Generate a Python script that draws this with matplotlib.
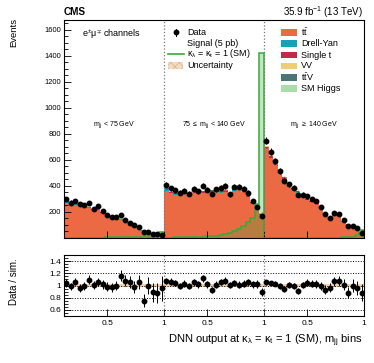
import numpy as np
import matplotlib
matplotlib.use('Agg')
import matplotlib.pyplot as plt
from matplotlib.patches import Rectangle
from matplotlib.lines import Line2D
from matplotlib.ticker import MultipleLocator, FixedLocator

plt.rcParams['font.family'] = ['Liberation Sans', 'DejaVu Sans']
plt.rcParams['mathtext.fontset'] = 'custom'
plt.rcParams['mathtext.rm'] = 'Liberation Sans'
plt.rcParams['mathtext.it'] = 'Liberation Sans:italic'
plt.rcParams['mathtext.bf'] = 'Liberation Sans:bold'
plt.rcParams['hatch.linewidth'] = 0.5

# ---------------- data ----------------
region_labels = [r'm$_\mathregular{jj}$ < 75 GeV',
                 r'75 $\leq$ m$_\mathregular{jj}$ < 140 GeV',
                 r'm$_\mathregular{jj}$ $\geq$ 140 GeV']
n_bins_region = 22
dnn_lo = 0.12
dnn_w = 0.04
x_tick_values = [0.5, 1.0]
x_tick_labels = ['0.5', '1']

data = [298, 272, 285, 259, 256, 269, 226, 244, 205, 179, 164, 159, 174, 138, 113, 98, 82, 46, 49, 33, 28, 21,
        410, 383, 367, 349, 364, 341, 377, 359, 402, 369, 338, 374, 387, 400, 336, 395, 395, 379, 349, 285, 241, 172,
        746, 664, 590, 513, 441, 413, 385, 331, 333, 321, 300, 285, 238, 182, 156, 190, 185, 136, 95, 90, 75, 38]

ttbar = [271, 259, 253, 256, 245, 231, 212, 214, 190, 173, 159, 149, 141, 120, 99, 93, 74, 57, 46, 35, 30, 21,
         364, 342, 334, 335, 336, 327, 342, 336, 342, 346, 350, 351, 348, 354, 319, 364, 373, 352, 316, 265, 222, 179,
         680, 612, 550, 496, 447, 391, 372, 348, 314, 293, 278, 265, 229, 186, 153, 169, 164, 126, 101, 83, 73, 40]

drell_yan = [5, 5, 5, 4, 4, 4, 4, 8, 3, 3, 3, 3, 2, 2, 2, 2, 1, 1, 1, 1, 1, 0,
             4, 4, 4, 4, 3, 3, 3, 3, 3, 3, 3, 3, 3, 2, 2, 2, 2, 2, 2, 2, 2, 1,
             3, 3, 3, 2, 2, 2, 2, 2, 2, 2, 1, 1, 1, 1, 1, 1, 1, 1, 1, 1, 0, 0]

single_t = [7, 7, 6, 6, 6, 6, 5, 5, 5, 4, 4, 4, 4, 3, 3, 3, 2, 2, 2, 1, 1, 1,
            10, 10, 10, 9, 9, 9, 9, 9, 9, 9, 9, 9, 9, 9, 8, 8, 8, 8, 7, 6, 5, 4,
            18, 16, 14, 13, 12, 11, 10, 9, 9, 8, 8, 7, 6, 5, 5, 5, 4, 4, 3, 3, 2, 1]

vv = [2, 2, 2, 2, 2, 2, 2, 2, 1, 1, 1, 1, 1, 1, 1, 1, 1, 1, 0, 0, 0, 0,
      2, 2, 2, 2, 2, 2, 2, 2, 2, 2, 2, 2, 2, 2, 2, 2, 2, 2, 2, 2, 2, 2,
      3, 3, 3, 3, 2, 2, 2, 2, 2, 2, 2, 2, 1, 1, 1, 1, 1, 1, 1, 1, 1, 0]

ttv = [1, 1, 1, 1, 1, 1, 1, 1, 1, 1, 1, 1, 1, 1, 1, 0, 0, 0, 0, 0, 0, 0,
       2, 2, 2, 2, 2, 2, 2, 2, 2, 2, 2, 2, 2, 2, 2, 2, 2, 2, 2, 2, 2, 2,
       3, 3, 3, 3, 2, 2, 2, 2, 2, 2, 2, 2, 2, 1, 1, 1, 1, 1, 1, 1, 1, 1]

sm_higgs = [1, 1, 1, 1, 1, 1, 1, 1, 1, 1, 1, 1, 1, 1, 1, 1, 0, 0, 0, 0, 0, 0,
            1, 1, 1, 1, 1, 1, 1, 1, 1, 1, 1, 1, 1, 1, 1, 2, 2, 2, 3, 3, 4, 5,
            1, 1, 1, 1, 1, 1, 1, 1, 1, 1, 1, 1, 1, 1, 1, 1, 1, 1, 1, 1, 1, 1]

signal = [2, 2, 2, 2, 2, 3, 3, 3, 3, 4, 4, 4, 5, 5, 6, 6, 7, 8, 9, 10, 15, 48,
          3, 3, 4, 4, 5, 6, 7, 8, 10, 12, 15, 18, 22, 28, 40, 55, 70, 90, 120, 150, 260, 1420,
          1, 1, 1, 1, 1, 1, 1, 1, 1, 2, 2, 2, 2, 2, 3, 3, 3, 4, 5, 8, 25, 65]

unc_rel = 0.03

bkg_names = [r'$\mathregular{t\bar{t}}$', 'Drell-Yan', 'Single t', 'VV',
             r'$\mathregular{t\bar{t}}$V', 'SM Higgs']
bkg_colors = ['#ec6a43', '#13a3b8', '#c32a48', '#efcd78', '#4e7373', '#a9dea8']

# ---------------- figure ----------------
W, H = 374, 363
fig = plt.figure(figsize=(W / 100, H / 100), dpi=100)

def fx(px):
    return px / W

def fy(py):
    return 1 - py / H

ax = fig.add_axes([fx(64), fy(238), fx(364) - fx(64), fy(20) - fy(238)])
axr = fig.add_axes([fx(64), fy(316), fx(364) - fx(64), fy(255) - fy(316)])

nb = len(data)
edges = np.arange(nb + 1, dtype=float)
centers = edges[:-1] + 0.5

data_a = np.array(data, float)
stack = [np.array(v, float) for v in [ttbar, drell_yan, single_t, vv, ttv, sm_higgs]]
base = np.zeros(nb)
for vals, col in zip(stack, bkg_colors):
    ax.stairs(base + vals, edges, baseline=base.copy(), fill=True, color=col, lw=0)
    base = base + vals
mc_total = base

# uncertainty band
ax.stairs(mc_total * (1 + unc_rel), edges, baseline=mc_total * (1 - unc_rel), fill=True,
          facecolor='none', edgecolor='#d9b38c', hatch='xxxx', lw=0)

# signal
sig = np.array(signal, float)
ax.stairs(sig, edges, fill=True, color='#3aa83a', alpha=0.3, lw=0)
ax.stairs(sig, edges, fill=False, color='#3aa83a', lw=1.1)

# data
ax.errorbar(centers, data_a, yerr=np.sqrt(data_a), fmt='o', color='black', ms=3.2,
            elinewidth=0.7, capsize=0)

ax.set_xlim(0, nb)
ax.set_ylim(0, 1675)

# separators
for a in (ax, axr):
    for b in (n_bins_region, 2 * n_bins_region):
        a.axvline(b, color='#777777', ls=':', lw=0.9)

# ticks
xt_pos = []
xt_lab = []
for r in range(3):
    for v, l in zip(x_tick_values, x_tick_labels):
        xt_pos.append(r * n_bins_region + (v - dnn_lo) / dnn_w)
        xt_lab.append(l)

for a in (ax, axr):
    a.set_xticks(xt_pos)
    a.tick_params(axis='both', which='both', direction='in', width=0.6)
    a.tick_params(axis='both', which='major', length=5)
    a.tick_params(axis='y', which='minor', length=2.8)
    for s in a.spines.values():
        s.set_linewidth(0.8)
ax.set_xticklabels([])
axr.set_xticklabels(xt_lab, fontsize=6)

ax.yaxis.set_major_locator(FixedLocator([200, 400, 600, 800, 1000, 1200, 1400, 1600]))
ax.yaxis.set_minor_locator(MultipleLocator(50))
ax.tick_params(axis='y', labelsize=5.4, pad=2)

# ratio
ratio = data_a / mc_total
ratio_err = np.sqrt(data_a) / mc_total
axr.stairs(np.full(nb, 1 + unc_rel), edges, baseline=np.full(nb, 1 - unc_rel), fill=True,
           color='#efd2ae', lw=0)
for yv in [0.6, 0.8, 1.0, 1.2, 1.4]:
    axr.axhline(yv, color='black', ls=':', lw=0.7)
axr.errorbar(centers, ratio, yerr=ratio_err, fmt='o', color='black', ms=3.2,
             elinewidth=0.7, capsize=0)
axr.set_xlim(0, nb)
axr.set_ylim(0.5, 1.5)
axr.yaxis.set_major_locator(FixedLocator([0.6, 0.8, 1.0, 1.2, 1.4]))
axr.set_yticklabels(['0.6', '0.8', '1', '1.2', '1.4'])
axr.yaxis.set_minor_locator(MultipleLocator(0.05))
axr.tick_params(axis='y', labelsize=6, pad=2)
axr.tick_params(axis='x', pad=3)

# region labels
for r, lab in enumerate(region_labels):
    ax.text(r * n_bins_region + 11, 870, lab, ha='center', va='center', fontsize=5)

# texts
fig.text(fx(64), fy(12), 'CMS', fontsize=7.2, fontweight='bold', ha='left', va='center')
fig.text(fx(363), fy(12), r'35.9 fb$^\mathregular{-1}$ (13 TeV)', fontsize=7, ha='right', va='center')
fig.text(fx(14), fy(18), 'Events', rotation=90, fontsize=6.8, ha='center', va='top')
fig.text(fx(14), fy(282), 'Data / sim.', rotation=90, fontsize=7, ha='center', va='center')
fig.text(fx(363), fy(341),
         r'DNN output at κ$_\mathregular{λ}$ = κ$_\mathregular{t}$ = 1 (SM), m$_\mathregular{jj}$ bins',
         fontsize=8, ha='right', va='center')
fig.text(fx(82), fy(34), r'e$^\mathregular{\pm}$μ$^\mathregular{\mp}$ channels', fontsize=6.5,
         ha='left', va='center')

# left legend
lg_fs = 6.5
tf = fig.transFigure
fig.add_artist(Line2D([fx(175.5)], [fy(32.3)], marker='o', ms=3.2, color='black', transform=tf))
fig.add_artist(Line2D([fx(175.5), fx(175.5)], [fy(29), fy(35.6)], color='black', lw=0.7, transform=tf))
fig.text(fx(187), fy(32.3), 'Data', fontsize=lg_fs, ha='left', va='center')
fig.text(fx(187), fy(43), 'Signal (5 pb)', fontsize=lg_fs, ha='left', va='center')
fig.add_artist(Line2D([fx(168), fx(184)], [fy(54), fy(54)], color='#3aa83a', lw=1.2, transform=tf))
fig.text(fx(187), fy(54), r'κ$_\mathregular{λ}$ = κ$_\mathregular{t}$ = 1 (SM)', fontsize=lg_fs,
         ha='left', va='center')
fig.add_artist(Rectangle((fx(168), fy(69)), fx(183) - fx(168), fy(62) - fy(69), transform=tf,
                         facecolor='#f3dcc0', edgecolor='#d9b38c', hatch='xxxx', lw=0))
fig.text(fx(187), fy(65.5), 'Uncertainty', fontsize=lg_fs, ha='left', va='center')

# right legend
rows = [32.5, 43.3, 55, 66, 77.3, 88.7]
for yy, name, col in zip(rows, bkg_names, bkg_colors):
    fig.add_artist(Rectangle((fx(281), fy(yy + 3.3)), fx(297) - fx(281), fy(yy - 3.3) - fy(yy + 3.3),
                             transform=tf, facecolor=col, lw=0))
    fig.text(fx(301), fy(yy), name, fontsize=lg_fs, ha='left', va='center')

fig.savefig('out.png', dpi=100)
